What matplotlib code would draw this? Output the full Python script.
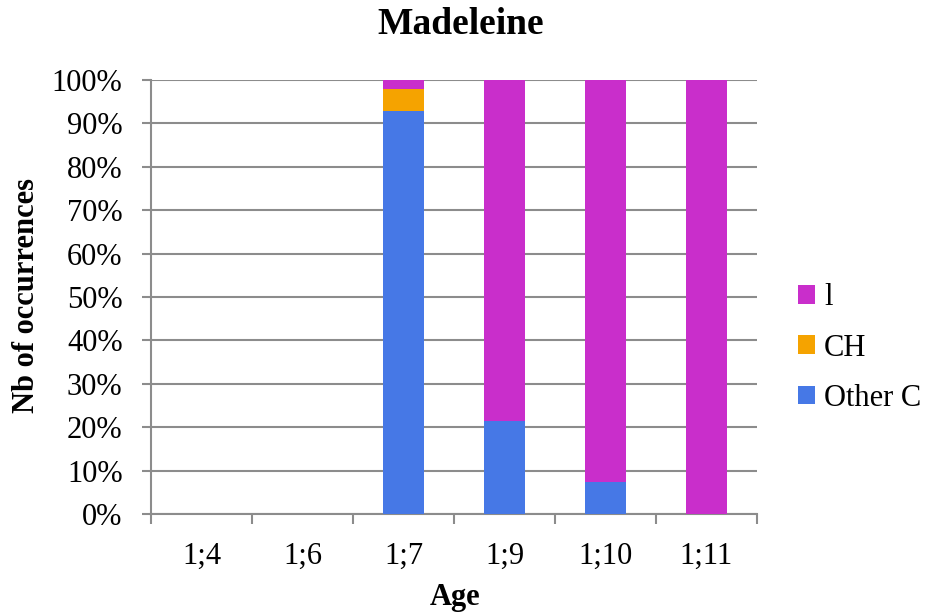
import matplotlib.pyplot as plt
from matplotlib.ticker import FixedLocator, NullFormatter
import numpy as np

ages = ["1;4", "1;6", "1;7", "1;9", "1;10", "1;11"]
other_c = [0, 0, 92.9, 21.5, 7.4, 0]
ch = [0, 0, 5.0, 0, 0, 0]
l_vals = [0, 0, 2.1, 78.5, 92.6, 100]

plt.rcParams['font.family'] = ['Liberation Serif', 'DejaVu Serif']

W, H = 931, 615
fig = plt.figure(figsize=(W / 100, H / 100), dpi=100)
ax = fig.add_axes([151 / W, 1 - 514 / H, 606 / W, 434 / H])

x = np.arange(len(ages))
w = 0.4
c_other = "#4678E6"
c_ch = "#F5A300"
c_l = "#C92ECB"
grey = "#8c8c8c"

bottom = np.zeros(len(ages))
b1 = ax.bar(x, other_c, w, bottom=bottom, color=c_other, label="Other C", zorder=3)
bottom += np.array(other_c)
b2 = ax.bar(x, ch, w, bottom=bottom, color=c_ch, label="CH", zorder=3)
bottom += np.array(ch)
b3 = ax.bar(x, l_vals, w, bottom=bottom, color=c_l, label="l", zorder=3)

ax.set_xlim(-0.5, len(ages) - 0.5)
ax.set_ylim(0, 100)
ax.set_yticks(range(0, 101, 10))
ax.set_yticklabels([f"{v}%" for v in range(0, 101, 10)], fontsize=22)
ax.yaxis.grid(True, color=grey, linewidth=1.5, zorder=0)

ax.set_xticks(x)
ax.set_xticklabels(ages, fontsize=22)
ax.tick_params(axis="x", which="major", length=0, pad=20)
ax.xaxis.set_minor_locator(FixedLocator(np.arange(-0.5, len(ages), 1)))
ax.xaxis.set_minor_formatter(NullFormatter())
ax.tick_params(axis="x", which="minor", length=7, width=1.5, color=grey)
ax.tick_params(axis="y", length=6.5, width=1.5, color=grey, pad=14)

for s in ["top", "right"]:
    ax.spines[s].set_visible(False)
for s in ["left", "bottom"]:
    ax.spines[s].set_color(grey)
    ax.spines[s].set_linewidth(1.5)

fig.text(461 / W, 1 - 25 / H, "Madeleine", fontsize=27, fontweight="bold",
         ha="center", va="center")
fig.text(455 / W, 1 - 598 / H, "Age", fontsize=22, fontweight="bold",
         ha="center", va="center")
fig.text(27 / W, 1 - 295 / H, "Nb of occurrences", fontsize=22, fontweight="bold",
         ha="center", va="center", rotation=90)

leg = fig.legend(handles=[b3, b2, b1], loc="center left",
                 bbox_to_anchor=(798 / W, 1 - 348 / H), bbox_transform=fig.transFigure,
                 frameon=False, fontsize=22, handlelength=0.55, handleheight=0.55,
                 handletextpad=0.3, labelspacing=0.7, borderpad=0, borderaxespad=0)

fig.savefig("out.png", dpi=100)
